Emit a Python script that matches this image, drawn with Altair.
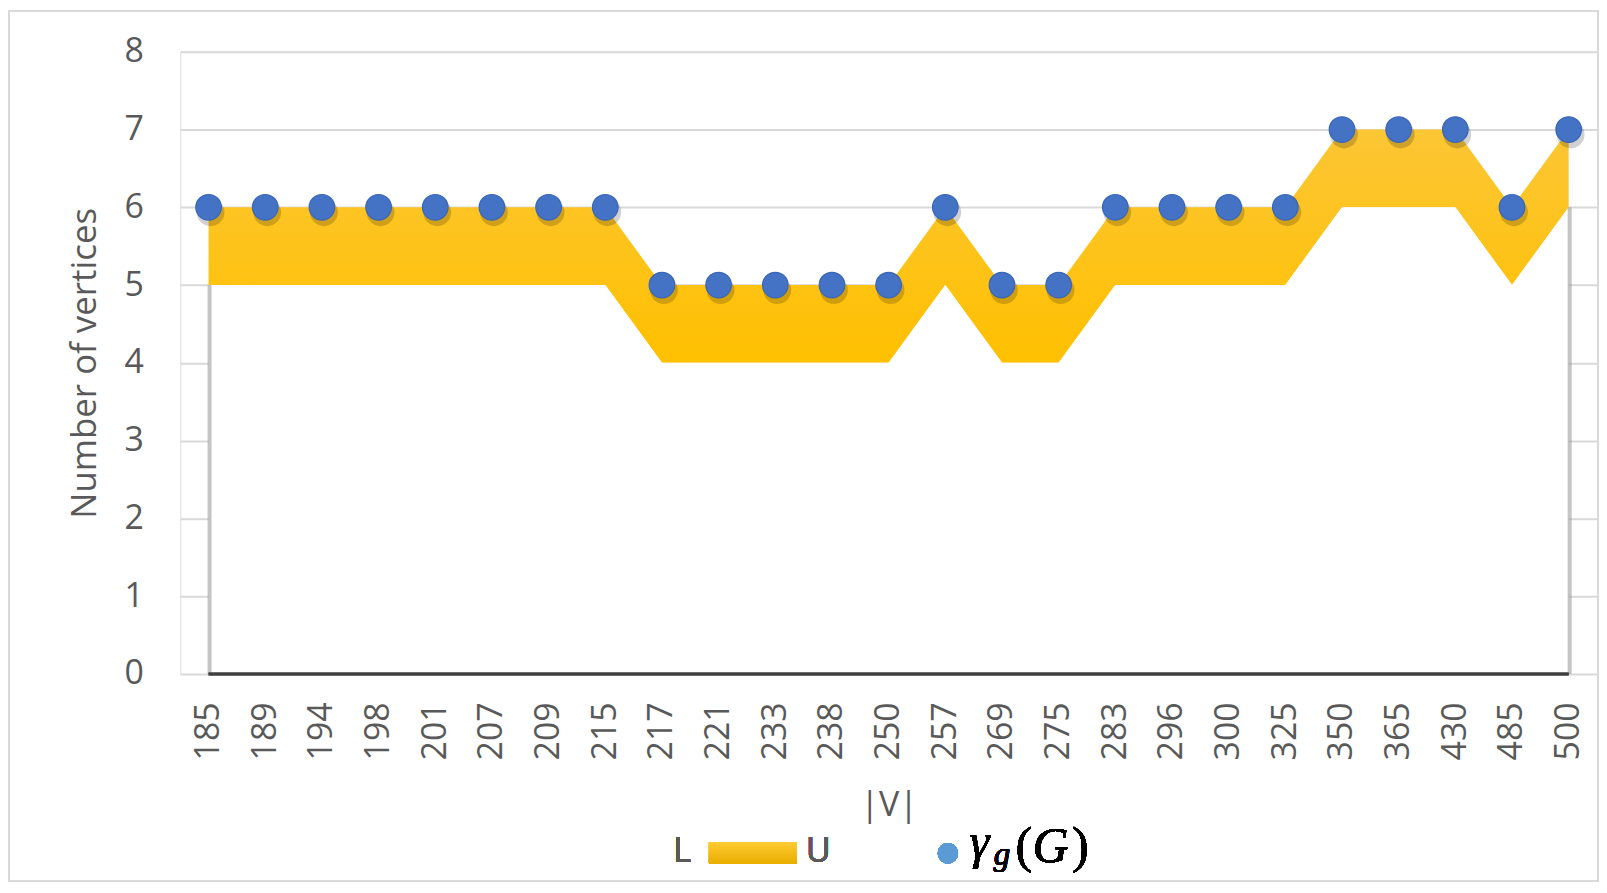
import altair as alt
import pandas as pd

# ---- data ----
sizes = ["185", "189", "194", "198", "201", "207", "209", "215", "217", "221",
         "233", "238", "250", "257", "269", "275", "283", "296", "300", "325",
         "350", "365", "430", "485", "500"]
lower = [5, 5, 5, 5, 5, 5, 5, 5, 4, 4, 4, 4, 4, 5, 4, 4, 5, 5, 5, 5, 6, 6, 6, 5, 6]
upper = [6, 6, 6, 6, 6, 6, 6, 6, 5, 5, 5, 5, 5, 6, 5, 5, 6, 6, 6, 6, 7, 7, 7, 6, 7]
gamma = [6, 6, 6, 6, 6, 6, 6, 6, 5, 5, 5, 5, 5, 6, 5, 5, 6, 6, 6, 6, 7, 7, 7, 6, 7]
y_ticks = [0, 1, 2, 3, 4, 5, 6, 7, 8]

df = pd.DataFrame({"V": sizes, "L": lower, "U": upper, "G": gamma})
ends = pd.DataFrame({"V": [sizes[0], sizes[-1]],
                     "L": [lower[0], lower[-1]]})

W, H = 1423, 625
FONT = "Open Sans"
GREY = "#595959"
SERIF = "Liberation Serif"

xenc = alt.X("V:N", sort=sizes,
             scale=alt.Scale(type="point", padding=0.5),
             axis=alt.Axis(title="|V|", labelAngle=-90, labelFontSize=34,
                           labelColor=GREY, labelFont=FONT, labelPadding=28,
                           ticks=False, domain=False, grid=False,
                           titleFontSize=34, titleColor=GREY, titleFont=FONT,
                           titleFontWeight="normal", titleY=132,
                           titleBaseline="middle"))
yscale = alt.Scale(domain=[0, 8], nice=False)
yaxis = alt.Axis(title="Number of vertices", values=y_ticks, format="d",
                 labelFontSize=34,
                 labelColor=GREY, labelFont=FONT, labelPadding=37,
                 ticks=False, domain=False, gridColor="#D9D9D9", gridWidth=2,
                 titleFontSize=35, titleColor=GREY, titleFont=FONT,
                 titleFontWeight="normal", titleX=-96, titleY=H / 2,
                 titleAlign="center", titleBaseline="middle")

base = alt.Chart(df)

gold = base.mark_area(
    color=alt.Gradient(gradient="linear",
                       stops=[alt.GradientStop(color="#FCC635", offset=0),
                              alt.GradientStop(color="#FFC000", offset=1)],
                       x1=0, x2=0, y1=0, y2=1)
).encode(x=xenc, y=alt.Y("U:Q", scale=yscale, axis=yaxis), y2="L:Q")

white = base.mark_area(color="white").encode(
    x=alt.X("V:N", sort=sizes), y=alt.Y("L:Q"))

# soft shadow on the white area's side edges and dark bottom edge
side_shadow = alt.Chart(ends).mark_rule(color="#8c8c8c", strokeWidth=4,
                                        opacity=0.5, xOffset=1).encode(
    x=alt.X("V:N", sort=sizes), y=alt.Y("L:Q"), y2=alt.datum(0))
bottom = alt.Chart(ends).mark_rule(color="#404040", strokeWidth=3).encode(
    x=alt.datum(sizes[0]), x2=alt.datum(sizes[-1]), y=alt.datum(0))

pt_shadow = base.mark_circle(size=780, color="#000000", opacity=0.18,
                             xOffset=2, yOffset=5).encode(
    x=alt.X("V:N", sort=sizes), y="G:Q")
points = base.mark_circle(size=660, color="#4472C4", opacity=1,
                          stroke="#3A66B8", strokeWidth=1.2).encode(
    x=alt.X("V:N", sort=sizes), y="G:Q")

# ---- legend (drawn by hand) ----
LY = H + 179
legend_L = alt.Chart(df).mark_text(text="L", fontSize=34, font=FONT,
                                   fontWeight="normal",
                                   color=GREY, baseline="middle").encode(
    x=alt.value(504), y=alt.value(LY))
legend_U = alt.Chart(df).mark_text(text="U", fontSize=34, font=FONT,
                                   fontWeight="normal",
                                   color=GREY, baseline="middle").encode(
    x=alt.value(641), y=alt.value(LY))
legend_bar = alt.Chart(df).mark_rect(
    color=alt.Gradient(gradient="linear",
                       stops=[alt.GradientStop(color="#FFCB33", offset=0),
                              alt.GradientStop(color="#E8AE00", offset=1)],
                       x1=0, x2=0, y1=0, y2=1)
).encode(x=alt.value(531), x2=alt.value(619), y=alt.value(LY - 10),
         y2=alt.value(LY + 11))
legend_dot = alt.Chart(df).mark_circle(size=420, color="#5B9BD5",
                                       opacity=1).encode(
    x=alt.value(771), y=alt.value(LY + 1))


def math_txt(t, x, dy, size, italic=True):
    return alt.Chart(df).mark_text(
        text=t, fontSize=size, font=SERIF,
        fontStyle="italic" if italic else "normal",
        color="#000000", align="left", baseline="alphabetic"
    ).encode(x=alt.value(x), y=alt.value(LY + dy))


legend_math = [
    math_txt("γ", 793, 6, 50),
    math_txt("g", 817, 13, 33),
    math_txt("(", 839, 10, 50, italic=False),
    math_txt("G", 856, 10, 50),
    math_txt(")", 896, 10, 50, italic=False),
]

frame = alt.Chart(df).mark_rect(fill=None, stroke="#D9D9D9",
                                strokeWidth=2).encode(
    x=alt.value(-172), x2=alt.value(W + 1), y=alt.value(-41),
    y2=alt.value(H + 208))

chart = alt.layer(
    gold, white, side_shadow, bottom, pt_shadow, points,
    legend_L, legend_bar, legend_U, legend_dot, *legend_math, frame
).properties(
    width=W, height=H,
    padding={"left": 173, "top": 42, "right": 2, "bottom": 210},
    autosize=alt.AutoSizeParams(type="none"),
).configure_view(stroke=None).configure(background="white")

chart.save("out.html", embed_options={"renderer": "svg", "actions": False})
